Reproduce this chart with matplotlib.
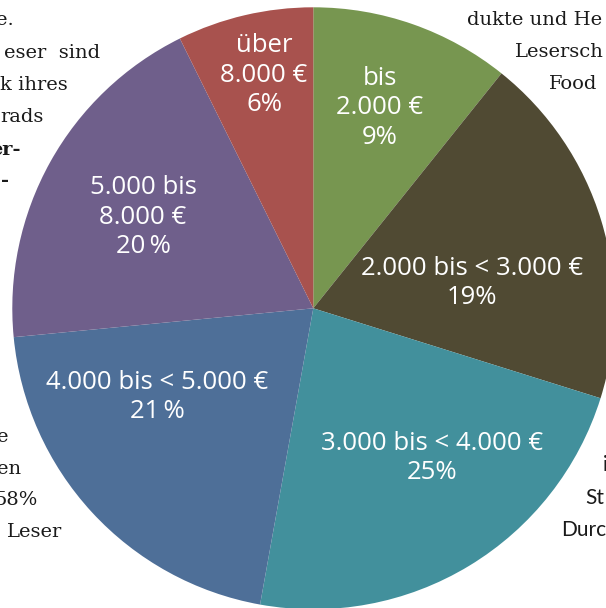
import matplotlib.pyplot as plt

# slice shares as drawn (clockwise from 12 o'clock)
shares = [10.75, 19.08, 23.0, 20.64, 19.22, 7.31]
labels = ["bis\n2.000 €\n9%",
          "2.000 bis < 3.000 €\n19%",
          "3.000 bis < 4.000 €\n25%",
          "4.000 bis < 5.000 €\n21\u2009%",
          "5.000 bis\n8.000 €\n20\u2009%",
          "über\n8.000 €\n6%"]
colors = ["#779650", "#504a33", "#42909c", "#4e6f98", "#6f5f8b", "#a8524e"]
label_pos = [(380, 108), (472, 283), (432, 458), (157, 397), (143, 217), (264, 75)]

W, H = 606, 608
fig = plt.figure(figsize=(W / 100, H / 100), dpi=100)
ax = fig.add_axes([0, 0, 1, 1])

ax.pie(shares, colors=colors, startangle=90, counterclock=False,
       center=(313.3, H - 308.3), radius=301,
       wedgeprops=dict(linewidth=0))
ax.set_xlim(0, W)
ax.set_ylim(0, H)
ax.set_aspect("equal")
ax.axis("off")

for txt, (x, y) in zip(labels, label_pos):
    ax.text(x, H - y, txt, color="white", fontsize=18.5, family="Open Sans",
            ha="center", va="center", linespacing=1.25)

# surrounding page text (cut off by the crop)
serif = dict(family="DejaVu Serif", fontsize=14, color="#1a1a1a", va="center")
ax.text(14, H - 20, "e.", ha="right", **serif)
ax.text(100, H - 53, "eser  sind", ha="right", **serif)
ax.text(68, H - 85, "k ihres", ha="right", **serif)
ax.text(44, H - 117, "rads", ha="right", **serif)
ax.text(21, H - 150, "er-", ha="right", fontweight="bold", **serif)
ax.text(9, H - 181, "-", ha="right", fontweight="bold", **serif)
ax.text(467, H - 20, "dukte und He", ha="left", **serif)
ax.text(515, H - 52, "Lesersch", ha="left", **serif)
ax.text(549, H - 84, "Food", ha="left", **serif)
ax.text(9, H - 437, "e", ha="right", **serif)
ax.text(21, H - 469, "en", ha="right", **serif)
ax.text(38, H - 500, "58%", ha="right", **serif)
ax.text(62, H - 532, "Leser", ha="right", **serif)

sans = dict(family="Lato", fontsize=15, color="#1a1a1a", va="center", ha="left")
ax.text(603, H - 465, "i", **sans)
ax.text(585, H - 498, "St", **sans)
ax.text(561, H - 530, "Durc", **sans)

fig.savefig("out.png", dpi=100)
